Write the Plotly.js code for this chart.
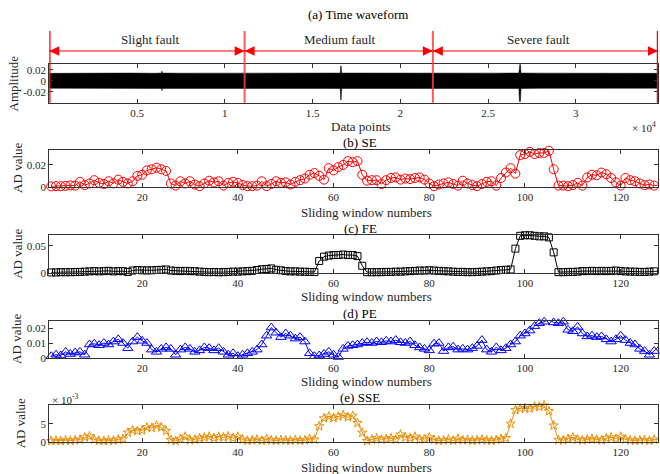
<!DOCTYPE html>
<html>
<head>
<meta charset="utf-8">
<script src="https://cdn.plot.ly/plotly-3.0.1.min.js"></script>
<style>html,body{margin:0;padding:0;background:#fff}#chart{width:660px;height:474px}</style>
</head>
<body>
<div id="chart"></div>
<script>
// ---------- data ----------
const windowNumbers = Array.from({length: 128}, (_, i) => i + 1);

const seValues = [0.0003,0.0006,0.0004,0.0008,0.0012,0.0010,0.0045,0.0015,0.0030,0.0060,
0.0035,0.0025,0.0050,0.0030,0.0065,0.0045,0.0030,0.0050,0.0100,0.0110,
0.0150,0.0160,0.0175,0.0160,0.0145,0.0030,0.0010,0.0050,0.0030,0.0050,
0.0020,0.0005,0.0030,0.0055,0.0040,0.0050,0.0010,0.0035,0.0045,0.0035,
0.0015,0.0005,0.0005,0.0010,0.0050,0.0005,0.0025,0.0050,0.0035,0.0040,
0.0020,0.0045,0.0060,0.0075,0.0110,0.0125,0.0100,0.0065,0.0170,0.0150,
0.0180,0.0200,0.0235,0.0225,0.0235,0.0110,0.0055,0.0060,0.0060,0.0025,
0.0060,0.0080,0.0085,0.0065,0.0075,0.0070,0.0080,0.0085,0.0065,0.0030,
0.0005,0.0020,0.0030,0.0040,0.0025,0.0010,0.0055,0.0030,0.0015,0.0005,
0.0025,0.0045,0.0050,0.0010,0.0080,0.0130,0.0170,0.0120,0.0290,0.0300,
0.0320,0.0300,0.0310,0.0310,0.0330,0.0160,0.0010,0.0010,0.0005,0.0015,
0.0035,0.0010,0.0085,0.0110,0.0105,0.0130,0.0115,0.0080,0.0040,0.0010,
0.0080,0.0060,0.0050,0.0030,0.0015,0.0020,0.0010,0.0015];

const feValues = [0.0005,0.0005,0.001,0.0008,0.001,0.0012,0.0015,0.002,
0.0025,0.003,0.0025,0.003,0.0035,0.0025,0.003,0.0028,0.0015,
0.004,0.005,0.0045,0.0042,0.0045,0.005,0.0055,0.006,
0.004,0.0035,0.003,0.0035,0.003,0.0028,0.002,0.0015,0.001,0.0012,0.0008,0.001,0.0015,0.002,0.002,0.0025,0.003,0.0035,0.005,
0.0065,0.007,0.008,
0.0055,0.0045,0.003,0.0025,0.0025,0.002,0.0018,0.0015,0.0012,
0.022,0.030,0.032,0.033,0.033,0.034,0.033,0.033,0.031,0.013,0.001,
0.0008,0.001,0.001,0.0015,0.0015,0.002,0.002,0.0025,0.003,0.0035,0.004,0.004,0.0045,0.004,0.0035,0.003,0.0025,0.002,0.0015,0.0015,0.001,0.001,0.0015,0.002,0.0025,0.003,0.004,0.005,0.0055,0.006,
0.045,0.069,0.070,0.070,0.069,0.068,0.068,0.066,0.038,0.001,
0.001,0.0015,0.0015,0.002,0.003,0.003,0.0035,0.003,0.0035,0.003,0.0035,0.004,0.003,0.0025,0.002,0.002,0.0015,0.0015,0.002,0.0025,0.003];

const peValues = [0.001,0.002,0.0015,0.004,0.0025,0.0035,0.004,0.002,
0.0090,0.0095,0.0085,0.0100,0.0090,0.0110,0.0125,0.0100,0.0065,0.0110,0.0140,0.0115,0.0100,0.0055,
0.0040,0.0060,0.0070,0.0060,0.0020,0.0055,0.0070,0.0060,0.0040,0.0050,0.0070,0.0065,0.0050,0.0065,0.0040,0.0020,0.0030,0.0010,0.0020,0.0030,0.0040,0.0055,
0.0090,0.0150,0.0205,0.0170,0.0140,0.0165,0.0150,0.0130,0.0140,0.0110,0.0030,0.0010,0.0015,0.0025,
0.0040,0.0020,0.0005,0.0060,0.0080,0.0085,0.0090,0.0100,
0.0105,0.0100,0.0110,0.0105,0.0115,0.0110,0.0120,0.0105,0.0100,0.0110,
0.0085,0.0070,0.0060,0.0050,0.0095,0.0100,0.0045,0.0070,0.0075,0.0055,0.0060,0.0055,0.0065,0.0080,0.0120,0.0055,0.0040,0.0070,0.0050,0.0065,0.0090,0.0110,
0.0150,0.0165,0.0185,0.0215,0.0235,0.0245,0.0260,0.0240,0.0235,0.0245,0.0190,0.0180,0.0210,0.0165,0.0145,0.0150,0.0140,0.0145,0.0125,0.0110,0.0125,0.0150,0.0120,0.0100,0.0090,0.0060,0.0045,0.0020,0.0045,0.0080];

const sseValues = [0.0002,0.0003,0.0002,0.0004,0.0003,0.0004,0.0006,0.0012,0.0015,0.0006,0.0003,0.0002,0.0004,0.0003,0.0006,0.0008,
0.0025,0.0032,0.0030,0.0032,0.0040,0.0038,0.0045,0.0040,0.0030,0.0005,
0.0002,0.0008,0.0014,0.0004,0.0006,0.0010,0.0012,0.0014,0.0010,0.0014,0.0012,0.0015,0.0010,0.0014,0.0006,0.0003,0.0004,0.0006,0.0003,0.0008,0.0004,0.0003,0.0005,0.0004,0.0003,0.0005,0.0003,0.0004,0.0008,0.0006,
0.0043,0.0065,0.0070,0.0066,0.0070,0.0074,0.0068,0.0072,0.0052,0.0025,0.0002,
0.0006,0.0010,0.0006,0.0008,0.0010,0.0006,0.0020,0.0012,0.0010,0.0014,0.0006,0.0008,0.0012,0.0005,0.0003,0.0004,0.0006,0.0003,0.0008,0.0004,0.0005,0.0003,0.0004,0.0006,0.0004,0.0003,0.0005,0.0008,0.0010,
0.0050,0.0088,0.0092,0.0093,0.0092,0.0098,0.0097,0.0101,0.0085,0.0045,0.0005,
0.0004,0.0008,0.0012,0.0006,0.0004,0.0006,0.0008,0.0006,0.0004,0.0010,0.0012,0.0008,0.0014,0.0006,0.0004,0.0003,0.0004,0.0005,0.0003,0.0006,0.0008];

// time waveform envelope
const waveX = [0,1500,3000,4500,6000,6390,6420,6450,7500,9000,10500,12000,13500,15000,16580,16610,16630,16660,18000,19500,21000,22500,24000,25500,26760,26790,26820,26850,26880,28000,29500,31000,32500,34000,34688];
const waveUpper = [0.0135,0.014,0.0138,0.014,0.0137,0.014,0.0175,0.014,0.0138,0.014,0.0138,0.0139,0.014,0.0138,0.014,0.027,0.027,0.014,0.0138,0.014,0.0139,0.014,0.0138,0.0139,0.014,0.029,0.031,0.029,0.014,0.0139,0.014,0.0138,0.014,0.0139,0.0135];
const waveLower = [-0.0135,-0.0138,-0.014,-0.0138,-0.0139,-0.014,-0.018,-0.014,-0.0139,-0.0138,-0.014,-0.0138,-0.0139,-0.014,-0.014,-0.035,-0.035,-0.014,-0.0139,-0.0138,-0.014,-0.0139,-0.014,-0.0138,-0.014,-0.037,-0.0385,-0.037,-0.014,-0.0138,-0.0139,-0.014,-0.0138,-0.014,-0.0135];

const faultBounds = [0, 11130, 21860, 34688];
const faultLabels = ['Slight fault', 'Medium fault', 'Severe fault'];
const faultLabelX = [5760, 16570, 27850];

const waveTickVals = [5000, 10000, 15000, 20000, 25000, 30000];
const waveTickText = ['0.5', '1', '1.5', '2', '2.5', '3'];
const windowTicks = [20, 40, 60, 80, 100, 120];

const panelTitles = ['(a) Time waveform', '(b) SE', '(c) FE', '(d) PE', '(e) SSE'];

// ---------- layout helpers ----------
const W = 660, H = 474;
const px = v => v / W;
const py = v => 1 - v / H;
const FONT = 'Liberation Serif, Times New Roman, serif';
const AXC = '#333333';
const xDom = [px(49.3), px(658)];

function baseAxis(extra) {
  return Object.assign({
    showline: true, linecolor: AXC, linewidth: 1, mirror: 'ticks',
    ticks: 'inside', ticklen: 4, tickwidth: 1, tickcolor: AXC,
    showgrid: false, zeroline: false, fixedrange: true,
    tickfont: {family: FONT, size: 11, color: '#262626'}
  }, extra);
}

// panel pixel boxes (top, bottom)
const boxes = [[64.3, 102.7], [149.7, 186.7], [235, 272.7], [320.7, 357.7], [405, 441.7]];
const dom = b => [py(b[1]), py(b[0])];

const traces = [
  {x: waveX, y: waveLower, xaxis: 'x', yaxis: 'y', mode: 'lines', line: {color: '#000', width: 0.5}, hoverinfo: 'skip', showlegend: false},
  {x: waveX, y: waveUpper, xaxis: 'x', yaxis: 'y', mode: 'lines', fill: 'tonexty', fillcolor: '#000', line: {color: '#000', width: 0.5}, hoverinfo: 'skip', showlegend: false},
  {x: windowNumbers, y: seValues, xaxis: 'x2', yaxis: 'y2', mode: 'lines+markers', cliponaxis: false,
   line: {color: '#ff0000', width: 1}, marker: {symbol: 'circle-open', size: 9, color: '#ff0000', line: {width: 1}}, showlegend: false},
  {x: windowNumbers, y: feValues, xaxis: 'x3', yaxis: 'y3', mode: 'lines+markers', cliponaxis: false,
   line: {color: '#000000', width: 1}, marker: {symbol: 'square-open', size: 7, color: '#000000', line: {width: 1}}, showlegend: false},
  {x: windowNumbers, y: peValues, xaxis: 'x4', yaxis: 'y4', mode: 'lines+markers', cliponaxis: false,
   line: {color: '#0000ff', width: 1}, marker: {symbol: 'triangle-up-open', size: 9, color: '#0000ff', line: {width: 1}}, showlegend: false},
  {x: windowNumbers, y: sseValues, xaxis: 'x5', yaxis: 'y5', mode: 'lines+markers', cliponaxis: false,
   line: {color: '#e8900c', width: 1}, marker: {symbol: 'star-open', size: 7, color: '#e8900c', line: {width: 1}}, showlegend: false}
];

const winRange = [0.6, 127.8];
const layout = {
  width: W, height: H,
  margin: {l: 0, r: 0, t: 0, b: 0},
  paper_bgcolor: '#fff', plot_bgcolor: '#fff',
  showlegend: false,
  xaxis: baseAxis({domain: xDom, anchor: 'y', range: [faultBounds[0], faultBounds[3]], tickmode: 'array', tickvals: waveTickVals, ticktext: waveTickText}),
  yaxis: baseAxis({domain: dom(boxes[0]), anchor: 'x', range: [-0.04, 0.03], tickmode: 'array', tickvals: [-0.02, 0, 0.02], ticktext: ['-0.02', '0', '0.02']}),
  xaxis2: baseAxis({domain: xDom, anchor: 'y2', range: winRange, tickmode: 'array', tickvals: windowTicks}),
  yaxis2: baseAxis({domain: dom(boxes[1]), anchor: 'x2', range: [0, 0.034], tickmode: 'array', tickvals: [0, 0.02], ticktext: ['0', '0.02']}),
  xaxis3: baseAxis({domain: xDom, anchor: 'y3', range: winRange, tickmode: 'array', tickvals: windowTicks}),
  yaxis3: baseAxis({domain: dom(boxes[2]), anchor: 'x3', range: [0, 0.0705], tickmode: 'array', tickvals: [0, 0.05], ticktext: ['0', '0.05']}),
  xaxis4: baseAxis({domain: xDom, anchor: 'y4', range: winRange, tickmode: 'array', tickvals: windowTicks}),
  yaxis4: baseAxis({domain: dom(boxes[3]), anchor: 'x4', range: [0, 0.0252], tickmode: 'array', tickvals: [0, 0.01, 0.02], ticktext: ['0', '0.01', '0.02']}),
  xaxis5: baseAxis({domain: xDom, anchor: 'y5', range: winRange, tickmode: 'array', tickvals: windowTicks}),
  yaxis5: baseAxis({domain: dom(boxes[4]), anchor: 'x5', range: [0, 0.0102], tickmode: 'array', tickvals: [0, 0.005], ticktext: ['0', '5']}),
  shapes: [],
  annotations: []
};

// fault region markers
const lineTop = py(31), lineBot = py(boxes[0][1]), arrowY = py(51);
const headLen = 10 / (608.7 / (faultBounds[3] - faultBounds[0]));
const headHalf = 4.7 / H;
faultBounds.forEach((b, i) => {
  const inner = i > 0 && i < faultBounds.length - 1;
  layout.shapes.push({type: 'line', xref: 'x', yref: 'paper', x0: b, x1: b, y0: lineBot, y1: lineTop,
    line: {color: inner ? 'rgba(255,60,60,0.85)' : '#ff0000', width: inner ? 2 : 2.5}, layer: 'above'});
});
for (let i = 0; i < faultLabels.length; i++) {
  const a = faultBounds[i], b = faultBounds[i + 1];
  layout.shapes.push({type: 'line', xref: 'x', yref: 'paper', x0: a, x1: b, y0: arrowY, y1: arrowY, line: {color: '#ff0000', width: 1}});
  layout.shapes.push({type: 'path', xref: 'x', yref: 'paper', fillcolor: '#ff0000', line: {color: '#ff0000', width: 0},
    path: `M${a},${arrowY} L${a + headLen},${arrowY + headHalf} L${a + headLen},${arrowY - headHalf} Z`});
  layout.shapes.push({type: 'path', xref: 'x', yref: 'paper', fillcolor: '#ff0000', line: {color: '#ff0000', width: 0},
    path: `M${b},${arrowY} L${b - headLen},${arrowY + headHalf} L${b - headLen},${arrowY - headHalf} Z`});
  layout.annotations.push({text: faultLabels[i], xref: 'x', yref: 'paper', x: faultLabelX[i], y: py(40),
    showarrow: false, xanchor: 'center', yanchor: 'middle', font: {family: FONT, size: 13, color: '#262626'}});
}

// panel titles
const titleY = [15, 142.3, 228.3, 313.3, 397.3];
panelTitles.forEach((t, i) => {
  layout.annotations.push({text: t, xref: 'paper', yref: 'paper', x: px(i === 0 ? 357.5 : 360), y: py(titleY[i]),
    showarrow: false, xanchor: 'center', yanchor: 'middle', font: {family: FONT, size: 13, color: '#000'}});
});

// x-axis titles
const xTitleY = [127, 212.3, 296.7, 381.7, 467.5];
xTitleY.forEach((y, i) => {
  layout.annotations.push({text: i === 0 ? 'Data points' : 'Sliding window numbers', xref: 'paper', yref: 'paper',
    x: px(i === 0 ? 361 : 366.7), y: py(y), showarrow: false, xanchor: 'center', yanchor: 'middle',
    font: {family: FONT, size: 13, color: '#262626'}});
});

// y-axis titles
const yTitleX = [13, 16.7, 18, 16.7, 20];
boxes.forEach((b, i) => {
  layout.annotations.push({text: i === 0 ? 'Amplitude' : 'AD value', xref: 'paper', yref: 'paper',
    x: px(yTitleX[i]), y: py((b[0] + b[1]) / 2), textangle: -90, showarrow: false, xanchor: 'center', yanchor: 'middle',
    font: {family: FONT, size: 13, color: '#262626'}});
});

// exponent labels
layout.annotations.push({text: '× 10<sup>4</sup>', xref: 'paper', yref: 'paper', x: px(658), y: py(127),
  showarrow: false, xanchor: 'right', yanchor: 'middle', font: {family: FONT, size: 11, color: '#262626'}});
layout.annotations.push({text: '× 10<sup>-3</sup>', xref: 'paper', yref: 'paper', x: px(50), y: py(399),
  showarrow: false, xanchor: 'left', yanchor: 'middle', font: {family: FONT, size: 11, color: '#262626'}});

Plotly.newPlot('chart', traces, layout, {displayModeBar: false, staticPlot: true});
</script>
</body>
</html>
